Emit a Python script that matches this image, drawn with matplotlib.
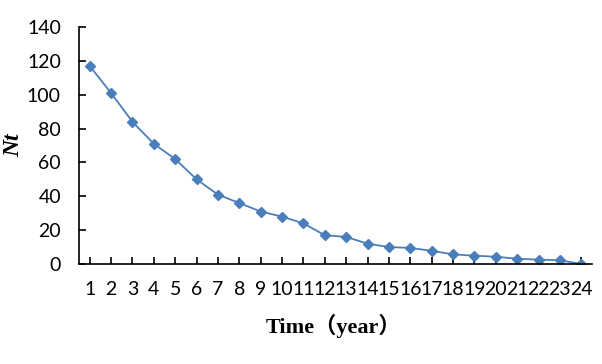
import matplotlib.pyplot as plt

years = list(range(1, 25))
nt = [117, 101, 84, 71, 62, 50, 41, 36, 31, 28, 24, 17, 16, 12, 10, 9.5,
      7.8, 5.7, 4.9, 4.3, 3.1, 2.6, 2.2, 0]
y_ticks = [0, 20, 40, 60, 80, 100, 120, 140]

fig = plt.figure(figsize=(6.02, 3.64), dpi=100)
ax = fig.add_axes([79 / 602, 1 - 264 / 364, 513 / 602, 237 / 364])

ax.plot(years, nt, color='#4a7ebb', linewidth=1.3, marker='D', markersize=5,
        markerfacecolor='#4a7ebb', markeredgecolor='#4a7ebb')

ax.set_xlim(0.5, 24.5)
ax.set_ylim(0, 140)
ax.set_xticks(years)
ax.set_yticks(y_ticks)

for side in ['top', 'right']:
    ax.spines[side].set_visible(False)
for side in ['left', 'bottom']:
    ax.spines[side].set_linewidth(1.2)
    ax.spines[side].set_color('black')

ax.tick_params(axis='both', direction='in', length=5, width=1.2,
               labelsize=14, colors='black')
ax.tick_params(axis='y', pad=13)
ax.tick_params(axis='x', pad=12)
for lbl in ax.get_xticklabels() + ax.get_yticklabels():
    lbl.set_fontfamily('Lato')

fig.text(14 / 602, 1 - 145 / 364, 'Nt', rotation=90, ha='center', va='center',
         fontsize=17, fontweight='bold', fontstyle='italic',
         family=['Liberation Serif'])
fig.text(334 / 602, 1 - 326 / 364, 'Time（year）', ha='center', va='center',
         fontsize=16, fontweight='bold',
         family=['Liberation Serif', 'Noto Sans CJK SC'])

fig.savefig('out.png', dpi=100)
